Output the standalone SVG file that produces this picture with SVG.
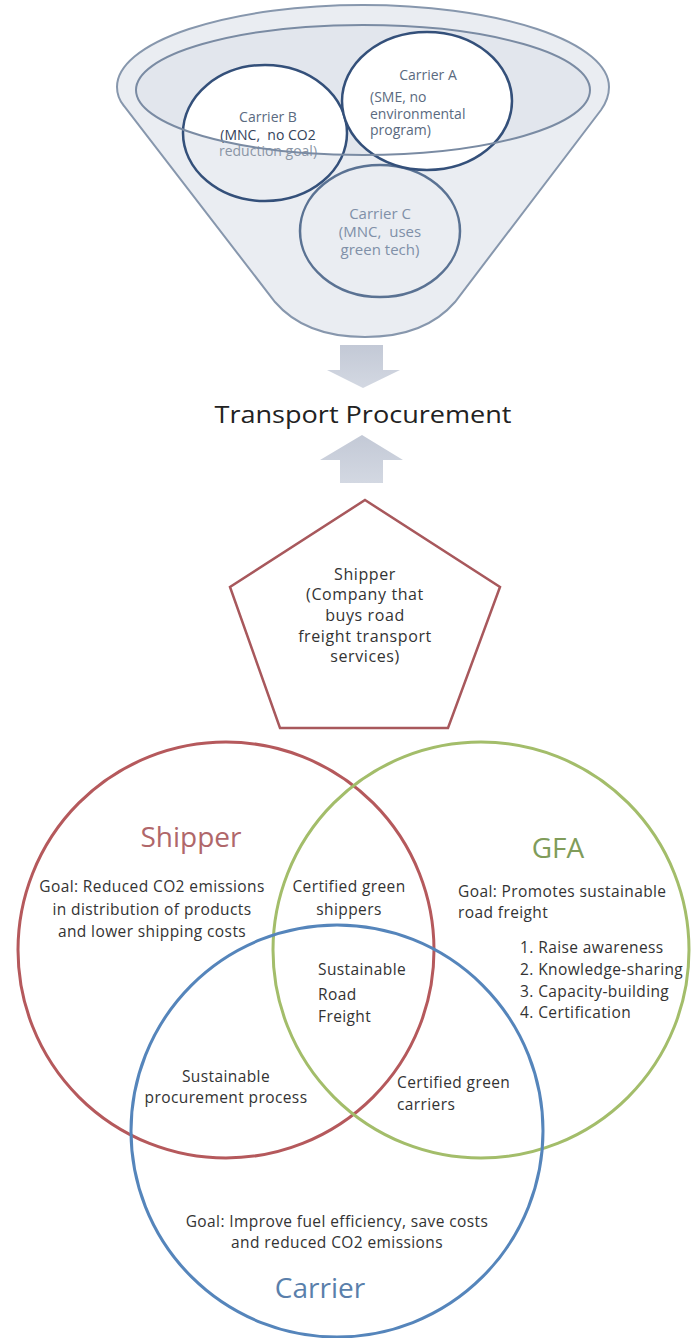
<svg xmlns="http://www.w3.org/2000/svg" width="691" height="1338" viewBox="0 0 691 1338">
<style>
.t{font-family:"Open Sans","Liberation Sans",sans-serif;fill:#333}
.f{font-family:"Open Sans","Liberation Sans",sans-serif}
.c{text-anchor:middle}
.v{font-size:15.5px;letter-spacing:0.4px}
.p{font-size:16px;letter-spacing:0.6px}
.ttl{font-size:28px}
</style>
<defs>
<linearGradient id="ag" x1="0" y1="0" x2="0" y2="1">
<stop offset="0" stop-color="#c3c9d6"/>
<stop offset="1" stop-color="#d3d8e2"/>
</linearGradient>
<clipPath id="rim"><ellipse cx="363" cy="90" rx="227" ry="65"/></clipPath>
</defs>

<g id="funnel">
<path d="M117,87 A246,82 0 0 1 609,87 C609,95 606,103 601,110 L455,302 Q425,337 365,337 Q305,337 275,302 L124,106 C119,100 117,94 117,87 Z" fill="#eaedf2" stroke="#8797ad" stroke-width="2"/>
<ellipse cx="363" cy="90" rx="227" ry="65" fill="#e2e6ed"/>
</g>

<g id="carrierC">
<ellipse cx="380" cy="231" rx="80" ry="66" fill="none" stroke="#5a7293" stroke-width="2.5"/>
<text class="f c" font-size="15" fill="#8090a8" xml:space="preserve"><tspan x="380" y="219">Carrier C</tspan><tspan x="380" y="237">(MNC,  uses</tspan><tspan x="380" y="255">green tech)</tspan></text>
</g>

<g id="carrierB">
<ellipse cx="265" cy="133" rx="82" ry="68" fill="#eaedf2"/>
<ellipse cx="265" cy="133" rx="82" ry="68" fill="#ffffff" clip-path="url(#rim)"/>
<ellipse cx="265" cy="133" rx="82" ry="68" fill="none" stroke="#34507a" stroke-width="2.5"/>
<text class="f c" font-size="14" xml:space="preserve"><tspan x="268" y="122" fill="#5a6a80">Carrier B</tspan><tspan x="268" y="140" fill="#34435a">(MNC,  no CO2</tspan><tspan x="268" y="156" fill="#8a95a5">reduction goal)</tspan></text>
</g>

<g id="carrierA">
<ellipse cx="427" cy="101" rx="85" ry="69" fill="#ffffff" stroke="#34507a" stroke-width="2.5"/>
<text class="f" font-size="14" fill="#5a6a80"><tspan x="428" y="80" text-anchor="middle">Carrier A</tspan><tspan x="370" y="102">(SME, no</tspan><tspan x="370" y="119">environmental</tspan><tspan x="370" y="135">program)</tspan></text>
</g>

<g id="rim-line">
<ellipse cx="363" cy="90" rx="227" ry="65" fill="none" stroke="#7a8ba3" stroke-width="2"/>
</g>

<g id="connectors">
<path d="M340,345 H383 V370 H400 L363,388 L327,370 H340 Z" fill="url(#ag)"/>
<path d="M362,435 L403,460 H383 V483 H340 V460 H320 Z" fill="url(#ag)"/>
</g>

<g id="procurement">
<text class="f c" x="363" y="423" font-size="24" fill="#222" textLength="297" lengthAdjust="spacingAndGlyphs">Transport Procurement</text>
</g>

<g id="shipper-pentagon">
<polygon points="365,500 500,587 448,728 280,728 230,587" fill="#fff" stroke="#a8585c" stroke-width="2.5"/>
<text class="t c p"><tspan x="365" y="580">Shipper</tspan><tspan x="365" y="600">(Company that</tspan><tspan x="365" y="621">buys road</tspan><tspan x="365" y="642">freight transport</tspan><tspan x="365" y="662">services)</tspan></text>
</g>

<g id="venn-circles">
<circle id="shipper-circle" cx="226" cy="950" r="208" fill="none" stroke="#b5595c" stroke-width="3"/>
<circle id="gfa-circle" cx="481" cy="950" r="208" fill="none" stroke="#a3bd6a" stroke-width="3"/>
<circle id="carrier-circle" cx="337" cy="1131" r="206" fill="none" stroke="#5585bb" stroke-width="3"/>
</g>

<g id="shipper">
<text class="f c ttl" x="191" y="847" fill="#b0676a">Shipper</text>
<text class="t c v"><tspan x="152" y="892">Goal: Reduced CO2 emissions</tspan><tspan x="152" y="915">in distribution of products</tspan><tspan x="152" y="937">and lower shipping costs</tspan></text>
</g>

<g id="gfa">
<text class="f c ttl" x="558" y="858" fill="#809c5a">GFA</text>
<text class="t v"><tspan x="458" y="897">Goal: Promotes sustainable</tspan><tspan x="458" y="918">road freight</tspan></text>
<text class="t v"><tspan x="520" y="953">1. Raise awareness</tspan><tspan x="520" y="975">2. Knowledge-sharing</tspan><tspan x="520" y="997">3. Capacity-building</tspan><tspan x="520" y="1018">4. Certification</tspan></text>
</g>

<g id="carrier">
<text class="f c ttl" x="320" y="1298" fill="#5a7fab">Carrier</text>
<text class="t c v"><tspan x="337" y="1227">Goal: Improve fuel efficiency, save costs</tspan><tspan x="337" y="1248">and reduced CO2 emissions</tspan></text>
</g>

<g id="certified-shippers">
<text class="t c v"><tspan x="349" y="892">Certified green</tspan><tspan x="349" y="915">shippers</tspan></text>
</g>

<g id="sustainable-road-freight">
<text class="t v"><tspan x="318" y="975">Sustainable</tspan><tspan x="318" y="1000">Road</tspan><tspan x="318" y="1022">Freight</tspan></text>
</g>

<g id="sustainable-procurement">
<text class="t c v"><tspan x="226" y="1082">Sustainable</tspan><tspan x="226" y="1103">procurement process</tspan></text>
</g>

<g id="certified-carriers">
<text class="t v"><tspan x="397" y="1088">Certified green</tspan><tspan x="397" y="1110">carriers</tspan></text>
</g>
</svg>
